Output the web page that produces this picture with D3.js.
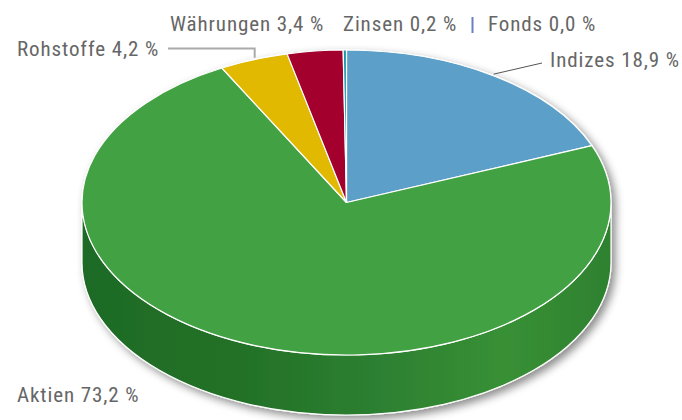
<!DOCTYPE html>
<html>
<head>
<meta charset="utf-8">
<script src="https://cdn.jsdelivr.net/npm/d3@7"></script>
<style>
  body { margin: 0; background: #fff; }
  svg text { font-family: "Liberation Sans Narrow", "Roboto Condensed", Roboto, sans-serif; }
</style>
</head>
<body>
<div id="chart"></div>
<script>
// Anteile in Prozent, im Uhrzeigersinn ab 12 Uhr
const categories = ["Indizes", "Aktien", "Rohstoffe", "Währungen", "Zinsen", "Fonds"];
const shares = [18.9, 73.2, 4.2, 3.4, 0.2, 0.0];
const colors = ["#5b9fc9", "#43a143", "#e0b900", "#a3002f", "#1a98a8", "#6b7fbf"];

const width = 682, height = 420;
const cx = 346.5, cy = 202.5, rx = 264.5, ry = 152.5, depth = 60;

const svg = d3.select("#chart").append("svg")
    .attr("width", width)
    .attr("height", height);

const defs = svg.append("defs");
defs.append("filter")
    .attr("id", "shadow")
    .attr("x", "-10%").attr("y", "-10%")
    .attr("width", "120%").attr("height", "130%")
    .append("feDropShadow")
    .attr("dx", 4).attr("dy", 4)
    .attr("stdDeviation", 4)
    .attr("flood-color", "#000")
    .attr("flood-opacity", 0.45);

// side shading, darker left, lighter toward right
const sideGrad = defs.append("linearGradient")
    .attr("id", "side")
    .attr("x1", 0).attr("x2", 1).attr("y1", 0).attr("y2", 0);
[[0, "#1e6b26"], [0.3, "#237128"], [0.55, "#2c7f30"], [0.8, "#389035"], [1, "#2e812f"]]
    .forEach(s => sideGrad.append("stop").attr("offset", s[0]).attr("stop-color", s[1]));

const pie = d3.pie().sort(null).startAngle(0).endAngle(2 * Math.PI).value(d => d);
const arcs = pie(shares);

// point on the tilted ellipse, angle clockwise from top
const pt = (a, z = 0) => [cx + rx * Math.sin(a), cy - ry * Math.cos(a) + z];

function topPath(d) {
    const p0 = pt(d.startAngle), p1 = pt(d.endAngle);
    const large = d.endAngle - d.startAngle > Math.PI ? 1 : 0;
    return `M${cx},${cy}L${p0}A${rx},${ry} 0 ${large} 1 ${p1}Z`;
}

function sidePath(d) {
    const s = Math.max(d.startAngle, Math.PI / 2), e = Math.min(d.endAngle, 3 * Math.PI / 2);
    if (e <= s) return null;
    const a = pt(s), b = pt(e), c = pt(e, depth), f = pt(s, depth);
    return `M${a}A${rx},${ry} 0 0 1 ${b}L${c}A${rx},${ry} 0 0 0 ${f}Z`;
}

const pieG = svg.append("g").attr("filter", "url(#shadow)");

pieG.selectAll("path.side")
    .data(arcs.filter(d => sidePath(d)))
    .enter().append("path")
    .attr("class", "side")
    .attr("d", sidePath)
    .attr("fill", "url(#side)")
    .attr("stroke", "#fff")
    .attr("stroke-width", 1.2);

pieG.selectAll("path.top")
    .data(arcs.filter(d => d.data > 0))
    .enter().append("path")
    .attr("class", "top")
    .attr("d", topPath)
    .attr("fill", (d, i) => colors[i])
    .attr("stroke", "#fff")
    .attr("stroke-width", 1.2)
    .attr("stroke-linejoin", "round");

// label layout (baseline positions)
const labelPos = [[550, 67], [17, 402], [17, 56], [170, 31], [343, 31], [488, 31]];
const fmt = v => v.toFixed(1).replace(".", ",") + " %";

const labels = svg.append("g");
labels.selectAll("text")
    .data(arcs)
    .enter().append("text")
    .attr("x", (d, i) => labelPos[i][0])
    .attr("y", (d, i) => labelPos[i][1])
    .attr("fill", "#666")
    .attr("font-size", 21)
    .attr("letter-spacing", 0.9)
    .text((d, i) => `${categories[i]} ${fmt(d.data)}`);

const mid = d => pt((d.startAngle + d.endAngle) / 2);

// Indizes connector
const mI = mid(arcs[0]);
labels.append("path")
    .attr("d", `M${mI[0] - 1},${mI[1] - 2}L542,63`)
    .attr("stroke", "#555").attr("stroke-width", 1).attr("fill", "none");

// Rohstoffe connector
const mR = mid(arcs[2]);
labels.append("path")
    .attr("d", `M${mR[0] + 1},${mR[1] - 2}V48.5H168`)
    .attr("stroke", "#aaa").attr("stroke-width", 2).attr("fill", "none");

// Fonds connector
labels.append("line")
    .attr("x1", 472.5).attr("x2", 472.5)
    .attr("y1", 17).attr("y2", 33)
    .attr("stroke", colors[5]).attr("stroke-width", 2);
</script>
</body>
</html>
